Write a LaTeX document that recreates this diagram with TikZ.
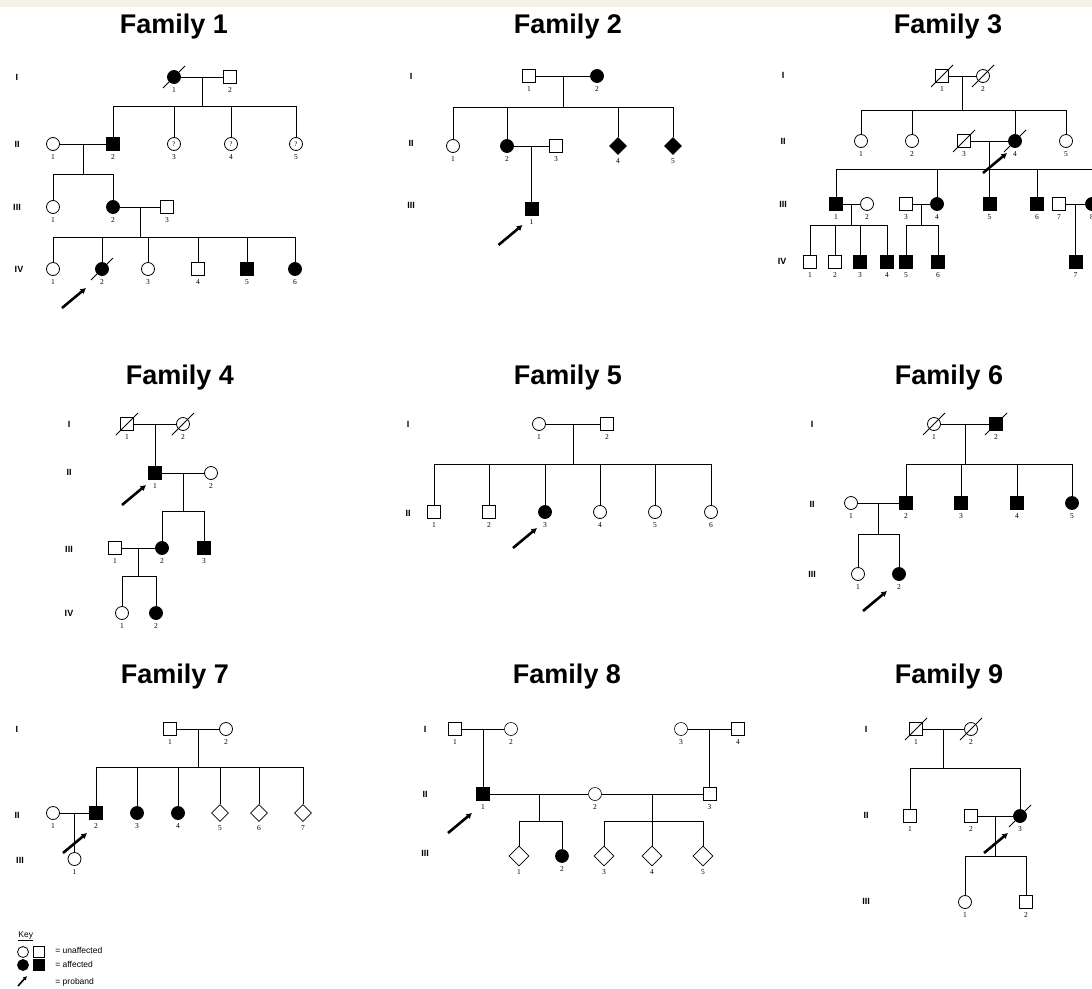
\documentclass[tikz,border=0pt]{standalone}
\usepackage{fontspec}
\setmainfont{Liberation Serif}
\setsansfont{Liberation Sans}
\usetikzlibrary{shapes.geometric,calc,arrows.meta}
\definecolor{band}{RGB}{244,241,230}

\tikzset{
  sym/.style={draw,inner sep=0pt},
  male/.style={sym,rectangle,minimum size=13pt},
  female/.style={sym,circle,minimum size=13pt},
  unknown/.style={sym,diamond,minimum size=17pt},
  aff/.style={fill=black},
  nr/.style={font=\fontsize{7.5}{7.5}\selectfont,inner sep=0.5pt},
  gen/.style={font=\sffamily\bfseries\fontsize{9}{9}\selectfont},
  famtitle/.style={font=\sffamily\bfseries\fontsize{27}{27}\selectfont,anchor=base},
  probarrow/.style={line width=2.6pt,-{Latex[length=5.5pt,width=6.5pt]}},
  keytext/.style={font=\sffamily\fontsize{8.5}{9}\selectfont,anchor=west,inner sep=0pt},
  keysym/.style={minimum size=11pt}
}

% person: style, name, x, y, number
\def\ind#1#2#3#4#5{\node[#1,label={[nr]below:#5}] (#2) at (#3,#4) {};}
\def\dead#1{\draw ([shift={(-11,11)}]#1.center) -- ([shift={(11,-11)}]#1.center);}
% couple: marriage line, mid point and drop
\def\couple#1#2#3#4{
\draw (#1) -- (#2);
\draw ($(#1)!0.5!(#2)$) coordinate (#3) -- ++(0,#4) coordinate (#3s);
}
\def\kids#1#2{\foreach \kid in {#2} {\draw (\kid.north) |- (#1);}}
\def\proband#1#2{\draw[probarrow] ([shift={(#2)}]#1.center) -- ++(24,-20);}
\def\qm{{\fontsize{7}{7}\selectfont ?}}

\begin{document}
\begin{tikzpicture}[x=1pt,y=-1pt,line width=0.8pt,label distance=2.5pt]
\useasboundingbox (0,0) rectangle (1092,988);
\fill[white] (0,0) rectangle (1092,988);
\clip (0,0) rectangle (1092,988);
\fill[band] (0,0) rectangle (1092,7);

% Family 1
\node[famtitle] (t1) at (174,33) {Family 1};
\node[gen] (f1g1) at (17,77) {I};
\node[gen] (f1g2) at (17,144) {II};
\node[gen] (f1g3) at (17,207) {III};
\node[gen] (f1g4) at (19,269) {IV};
\ind{female,aff}{f1i1}{174}{77}{1}
\ind{male}{f1i2}{230}{77}{2}
\dead{f1i1}
\couple{f1i1}{f1i2}{f1m1}{29}
\ind{female}{f1ii1}{53}{144}{1}
\ind{male,aff}{f1ii2}{113}{144}{2}
\node[female,label={[nr]below:3}] (f1ii3) at (174,144) {\qm};
\node[female,label={[nr]below:4}] (f1ii4) at (231,144) {\qm};
\node[female,label={[nr]below:5}] (f1ii5) at (296,144) {\qm};
\kids{f1m1s}{f1ii2,f1ii3,f1ii4,f1ii5}
\couple{f1ii1}{f1ii2}{f1m2}{30}
\ind{female}{f1iii1}{53}{207}{1}
\ind{female,aff}{f1iii2}{113}{207}{2}
\ind{male}{f1iii3}{167}{207}{3}
\kids{f1m2s}{f1iii1,f1iii2}
\couple{f1iii2}{f1iii3}{f1m3}{30}
\ind{female}{f1iv1}{53}{269}{1}
\ind{female,aff}{f1iv2}{102}{269}{2}
\ind{female}{f1iv3}{148}{269}{3}
\ind{male}{f1iv4}{198}{269}{4}
\ind{male,aff}{f1iv5}{247}{269}{5}
\ind{female,aff}{f1iv6}{295}{269}{6}
\dead{f1iv2}
\kids{f1m3s}{f1iv1,f1iv2,f1iv3,f1iv4,f1iv5,f1iv6}
\proband{f1iv2}{-40,39}

% Family 2
\node[famtitle] (t2) at (568,33) {Family 2};
\node[gen] (f2g1) at (411,76) {I};
\node[gen] (f2g2) at (411,143) {II};
\node[gen] (f2g3) at (411,205) {III};
\ind{male}{f2i1}{529}{76}{1}
\ind{female,aff}{f2i2}{597}{76}{2}
\couple{f2i1}{f2i2}{f2m1}{31}
\ind{female}{f2ii1}{453}{146}{1}
\ind{female,aff}{f2ii2}{507}{146}{2}
\ind{male}{f2ii3}{556}{146}{3}
\ind{unknown,aff}{f2ii4}{618}{146}{4}
\ind{unknown,aff}{f2ii5}{673}{146}{5}
\kids{f2m1s}{f2ii1,f2ii2,f2ii4,f2ii5}
\couple{f2ii2}{f2ii3}{f2m2}{0}
\ind{male,aff}{f2iii1}{531.5}{209}{1}
\kids{f2m2}{f2iii1}
\proband{f2iii1}{-33,36}

% Family 3
\node[famtitle] (t3) at (948,33) {Family 3};
\node[gen] (f3g1) at (783,75) {I};
\node[gen] (f3g2) at (783,141) {II};
\node[gen] (f3g3) at (783,204) {III};
\node[gen] (f3g4) at (782,261) {IV};
\ind{male}{f3i1}{942}{76}{1}
\ind{female}{f3i2}{983}{76}{2}
\dead{f3i1}
\dead{f3i2}
\couple{f3i1}{f3i2}{f3m1}{34}
\ind{female}{f3ii1}{861}{141}{1}
\ind{female}{f3ii2}{912}{141}{2}
\ind{male}{f3ii3}{964}{141}{3}
\ind{female,aff}{f3ii4}{1015}{141}{4}
\ind{female}{f3ii5}{1066}{141}{5}
\dead{f3ii3}
\dead{f3ii4}
\kids{f3m1s}{f3ii1,f3ii2,f3ii4,f3ii5}
\couple{f3ii3}{f3ii4}{f3m2}{28}
\ind{male,aff}{f3iii1}{836}{204}{1}
\ind{female}{f3iii2}{867}{204}{2}
\ind{male}{f3iii3}{906}{204}{3}
\ind{female,aff}{f3iii4}{937}{204}{4}
\ind{male,aff}{f3iii5}{989.5}{204}{5}
\ind{male,aff}{f3iii6}{1037}{204}{6}
\ind{male}{f3iii7}{1059}{204}{7}
\ind{female,aff}{f3iii8}{1092}{204}{8}
\kids{f3m2s}{f3iii1,f3iii4,f3iii5,f3iii6,f3iii8}
\proband{f3ii4}{-32,32}
\couple{f3iii1}{f3iii2}{f3m3}{21}
\ind{male}{f3iv1}{810}{262}{1}
\ind{male}{f3iv2}{835}{262}{2}
\ind{male,aff}{f3iv3}{860}{262}{3}
\ind{male,aff}{f3iv4}{887}{262}{4}
\kids{f3m3s}{f3iv1,f3iv2,f3iv3,f3iv4}
\couple{f3iii3}{f3iii4}{f3m4}{21}
\ind{male,aff}{f3iv5}{906}{262}{5}
\ind{male,aff}{f3iv6}{938}{262}{6}
\kids{f3m4s}{f3iv5,f3iv6}
\couple{f3iii7}{f3iii8}{f3m5}{0}
\ind{male,aff}{f3iv7}{1075.5}{262}{7}
\kids{f3m5}{f3iv7}

% Family 4
\node[famtitle] (t4) at (180,384) {Family 4};
\node[gen] (f4g1) at (69,424) {I};
\node[gen] (f4g2) at (69,472) {II};
\node[gen] (f4g3) at (69,549) {III};
\node[gen] (f4g4) at (69,613) {IV};
\ind{male}{f4i1}{127}{424}{1}
\ind{female}{f4i2}{183}{424}{2}
\dead{f4i1}
\dead{f4i2}
\couple{f4i1}{f4i2}{f4m1}{0}
\ind{male,aff}{f4ii1}{155}{473}{1}
\ind{female}{f4ii2}{211}{473}{2}
\kids{f4m1}{f4ii1}
\couple{f4ii1}{f4ii2}{f4m2}{38}
\ind{male}{f4iii1}{115}{548}{1}
\ind{female,aff}{f4iii2}{162}{548}{2}
\ind{male,aff}{f4iii3}{204}{548}{3}
\kids{f4m2s}{f4iii2,f4iii3}
\couple{f4iii1}{f4iii2}{f4m3}{28}
\ind{female}{f4iv1}{122}{613}{1}
\ind{female,aff}{f4iv2}{156}{613}{2}
\kids{f4m3s}{f4iv1,f4iv2}
\proband{f4ii1}{-33,32}

% Family 5
\node[famtitle] (t5) at (568,384) {Family 5};
\node[gen] (f5g1) at (408,424) {I};
\node[gen] (f5g2) at (408,513) {II};
\ind{female}{f5i1}{539}{424}{1}
\ind{male}{f5i2}{607}{424}{2}
\couple{f5i1}{f5i2}{f5m1}{40}
\ind{male}{f5ii1}{434}{512}{1}
\ind{male}{f5ii2}{489}{512}{2}
\ind{female,aff}{f5ii3}{545}{512}{3}
\ind{female}{f5ii4}{600}{512}{4}
\ind{female}{f5ii5}{655}{512}{5}
\ind{female}{f5ii6}{711}{512}{6}
\kids{f5m1s}{f5ii1,f5ii2,f5ii3,f5ii4,f5ii5,f5ii6}
\proband{f5ii3}{-32,36}

% Family 6
\node[famtitle] (t6) at (949,384) {Family 6};
\node[gen] (f6g1) at (812,424) {I};
\node[gen] (f6g2) at (812,504) {II};
\node[gen] (f6g3) at (812,574) {III};
\ind{female}{f6i1}{934}{424}{1}
\ind{male,aff}{f6i2}{996}{424}{2}
\dead{f6i1}
\dead{f6i2}
\couple{f6i1}{f6i2}{f6m1}{40}
\ind{female}{f6ii1}{851}{503}{1}
\ind{male,aff}{f6ii2}{906}{503}{2}
\ind{male,aff}{f6ii3}{961}{503}{3}
\ind{male,aff}{f6ii4}{1017}{503}{4}
\ind{female,aff}{f6ii5}{1072}{503}{5}
\kids{f6m1s}{f6ii2,f6ii3,f6ii4,f6ii5}
\couple{f6ii1}{f6ii2}{f6m2}{31}
\ind{female}{f6iii1}{858}{574}{1}
\ind{female,aff}{f6iii2}{899}{574}{2}
\kids{f6m2s}{f6iii1,f6iii2}
\proband{f6iii2}{-36,37}

% Family 7
\node[famtitle] (t7) at (175,683) {Family 7};
\node[gen] (f7g1) at (17,729) {I};
\node[gen] (f7g2) at (17,815) {II};
\node[gen] (f7g3) at (20,860) {III};
\ind{male}{f7i1}{170}{729}{1}
\ind{female}{f7i2}{226}{729}{2}
\couple{f7i1}{f7i2}{f7m1}{38}
\ind{female}{f7ii1}{53}{813}{1}
\ind{male,aff}{f7ii2}{96}{813}{2}
\ind{female,aff}{f7ii3}{137}{813}{3}
\ind{female,aff}{f7ii4}{178}{813}{4}
\ind{unknown}{f7ii5}{220}{813}{5}
\ind{unknown}{f7ii6}{259}{813}{6}
\ind{unknown}{f7ii7}{303}{813}{7}
\kids{f7m1s}{f7ii2,f7ii3,f7ii4,f7ii5,f7ii6,f7ii7}
\couple{f7ii1}{f7ii2}{f7m2}{0}
\ind{female}{f7iii1}{74.5}{859}{1}
\kids{f7m2}{f7iii1}
\proband{f7ii2}{-33,40}

% key
\node[keytext] (key) at (18,936) {\underline{Key}};
\node[female,keysym] (kf) at (23,952) {};
\node[male,keysym] (km) at (39,952) {};
\node[female,aff,keysym] (kfa) at (23,965) {};
\node[male,aff,keysym] (kma) at (39,965) {};
\node[keytext] (ku) at (55,950) {= unaffected};
\node[keytext] (ka) at (55,964) {= affected};
\node[keytext] (kp) at (55,982) {= proband};
\coordinate (karrow) at (18,986);
\draw[probarrow,line width=1.6pt,-{Latex[length=4pt,width=4.5pt]}] (karrow) -- ++(9,-10);

% Family 8
\node[famtitle] (t8) at (567,683) {Family 8};
\node[gen] (f8g1) at (425,729) {I};
\node[gen] (f8g2) at (425,794) {II};
\node[gen] (f8g3) at (425,853) {III};
\begin{scope}[line width=0.6pt,unknown/.append style={minimum size=20pt}]
\ind{male}{f8i1}{455}{729}{1}
\ind{female}{f8i2}{511}{729}{2}
\couple{f8i1}{f8i2}{f8m1}{0}
\ind{female}{f8i3}{681}{729}{3}
\ind{male}{f8i4}{738}{729}{4}
\couple{f8i3}{f8i4}{f8m2}{0}
\ind{male,aff}{f8ii1}{483}{794}{1}
\ind{female}{f8ii2}{595}{794}{2}
\ind{male}{f8ii3}{709.5}{794}{3}
\kids{f8m1}{f8ii1}
\kids{f8m2}{f8ii3}
\couple{f8ii1}{f8ii2}{f8m3}{27}
\couple{f8ii2}{f8ii3}{f8m4}{27}
\ind{unknown}{f8iii1}{519}{856}{1}
\ind{female,aff}{f8iii2}{562}{856}{2}
\ind{unknown}{f8iii3}{604}{856}{3}
\ind{unknown}{f8iii4}{652}{856}{4}
\ind{unknown}{f8iii5}{703}{856}{5}
\kids{f8m3s}{f8iii1,f8iii2}
\kids{f8m4s}{f8iii3,f8iii4,f8iii5}
\end{scope}
\proband{f8ii1}{-35,39}

% Family 9
\node[famtitle] (t9) at (949,683) {Family 9};
\node[gen] (f9g1) at (866,729) {I};
\node[gen] (f9g2) at (866,815) {II};
\node[gen] (f9g3) at (866,901) {III};
\ind{male}{f9i1}{916}{729}{1}
\ind{female}{f9i2}{971}{729}{2}
\dead{f9i1}
\dead{f9i2}
\couple{f9i1}{f9i2}{f9m1}{39}
\ind{male}{f9ii1}{910}{816}{1}
\ind{male}{f9ii2}{971}{816}{2}
\ind{female,aff}{f9ii3}{1020}{816}{3}
\dead{f9ii3}
\kids{f9m1s}{f9ii1,f9ii3}
\couple{f9ii2}{f9ii3}{f9m2}{40}
\ind{female}{f9iii1}{965}{902}{1}
\ind{male}{f9iii2}{1026}{902}{2}
\kids{f9m2s}{f9iii1,f9iii2}
\proband{f9ii3}{-36,37}
\end{tikzpicture}
\end{document}
